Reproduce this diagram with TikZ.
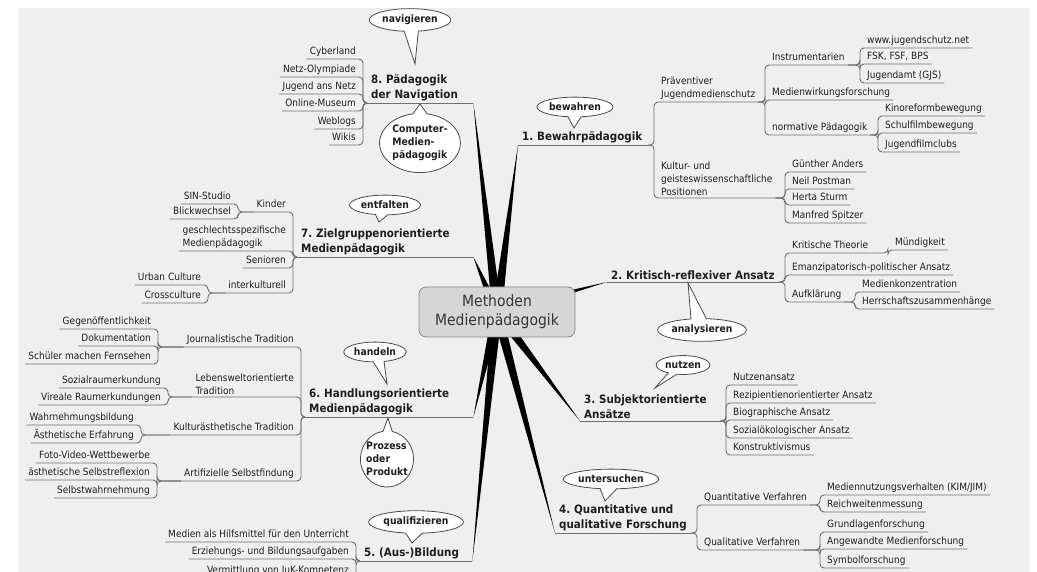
\documentclass[tikz,border=0pt]{standalone}
\usepackage{fontspec}
\setmainfont{DejaVu Sans}[FakeStretch=0.9]
\usetikzlibrary{calc,shapes.callouts}
\definecolor{paper}{HTML}{EFEFEF}
\definecolor{ink}{HTML}{1E1E1E}
\definecolor{wire}{HTML}{707070}
\definecolor{hubfill}{HTML}{D6D6D6}
\definecolor{hubline}{HTML}{8A8A8A}
\definecolor{sayline}{HTML}{4A4A4A}

\begin{document}
\frenchspacing
\begin{tikzpicture}[x=1pt, y=-1pt,
    txt/.style={font=\fontsize{10}{13}\selectfont, text=ink, inner xsep=3pt, inner ysep=2pt},
    rleaf/.style={txt, anchor=south west, text height=7.5pt, text depth=2.5pt},
    lleaf/.style={txt, anchor=south east, text height=7.5pt, text depth=2.5pt},
    rmulti/.style={txt, anchor=south west, align=left},
    lmulti/.style={txt, anchor=south east, align=left},
    topic/.style={font=\fontsize{11.5}{15}\selectfont\bfseries, text=ink, align=left,
      anchor=south west, inner xsep=4pt, inner ysep=2pt},
    link/.style={draw=wire, line width=0.9pt, rounded corners=4pt},
    spoke/.style={fill=black},
    hub/.style={draw=hubline, fill=hubfill, line width=0.8pt, rounded corners=7pt,
      minimum width=156pt, minimum height=50pt, align=center,
      font=\fontsize{15.5}{19}\selectfont, text=ink!90},
    say/.style={ellipse callout, draw=sayline, fill=white, line width=0.8pt,
      font=\fontsize{10.3}{13}\selectfont\bfseries, text=ink, inner xsep=1pt, inner ysep=3pt,
      callout pointer arc=20}
  ]
  \useasboundingbox (0,0) rectangle (1037,572);
  \fill[white] (0,0) rectangle (1037,572);
  \fill[paper] (18,8) rectangle (1030,572);

  \begin{scope}
  \clip (18,8) rectangle (1030,572);

  % main branches
  \node[topic, text width=124pt] (t1) at (518,145) {1. Bewahrpädagogik};
  \node[topic, text width=166pt] (t2) at (607,282) {2. Kritisch-reflexiver Ansatz};
  \node[topic, text width=134pt] (t3) at (580,421) {3. Subjektorientierte\\Ansätze};
  \node[topic, text width=130pt] (t4) at (555,533) {4. Quantitative und\\qualitative Forschung};
  \node[topic, text width=104pt] (t5) at (360,561) {5. (Aus-)Bildung};
  \node[topic, text width=160pt] (t6) at (305,417) {6. Handlungsorientierte\\Medienpädagogik};
  \node[topic, text width=168pt] (t7) at (297,257) {7. Zielgruppenorientierte\\Medienpädagogik};
  \node[topic, text width=98pt] (t8) at (367,103) {8. Pädagogik\\der Navigation};

  % 1
  \node[rmulti] (prae) at (658,102) {Präventiver\\Jugendmedienschutz};
  \node[rmulti] (kult) at (658,198) {Kultur- und\\geisteswissenschaftliche\\Positionen};
  \node[rleaf] (instr) at (769,65) {Instrumentarien};
  \node[rleaf] (wirk) at (769,100) {Medienwirkungsforschung};
  \node[rleaf] (norm) at (769,135) {normative Pädagogik};
  \node[rleaf] (jnet) at (864,48) {www.jugendschutz.net};
  \node[rleaf] (fsk) at (864,64) {FSK, FSF, BPS};
  \node[rleaf] (gjs) at (864,83) {Jugendamt (GJS)};
  \node[rleaf] (kino) at (882,116) {Kinoreformbewegung};
  \node[rleaf] (schul) at (882,133) {Schulfilmbewegung};
  \node[rleaf] (jfc) at (882,152) {Jugendfilmclubs};
  \node[rleaf] (anders) at (789,172) {Günther Anders};
  \node[rleaf] (postman) at (789,189) {Neil Postman};
  \node[rleaf] (sturm) at (789,205) {Herta Sturm};
  \node[rleaf] (spitzer) at (789,223) {Manfred Spitzer};

  % 2
  \node[rleaf] (krit) at (789,253) {Kritische Theorie};
  \node[rleaf] (mund) at (892,250) {Mündigkeit};
  \node[rleaf] (eman) at (789,275) {Emanzipatorisch-politischer Ansatz};
  \node[rleaf] (aufkl) at (789,302) {Aufklärung};
  \node[rleaf] (konz) at (859,292) {Medienkonzentration};
  \node[rleaf] (herr) at (859,309) {Herrschaftszusammenhänge};

  % 3
  \node[rleaf] (nutzen) at (730,385) {Nutzenansatz};
  \node[rleaf] (rezip) at (730,403) {Rezipientienorientierter Ansatz};
  \node[rleaf] (biogr) at (730,420) {Biographische Ansatz};
  \node[rleaf] (sozoek) at (730,438) {Sozialökologischer Ansatz};
  \node[rleaf] (konstr) at (730,455) {Konstruktivismus};

  % 4
  \node[rleaf] (quant) at (701,505) {Quantitative Verfahren};
  \node[rleaf] (qual) at (701,550) {Qualitative Verfahren};
  \node[rleaf] (mnv) at (824,495) {Mediennutzungsverhalten (KIM/JIM)};
  \node[rleaf] (reich) at (824,512) {Reichweitenmessung};
  \node[rleaf] (grund) at (824,532) {Grundlagenforschung};
  \node[rleaf] (angew) at (824,549) {Angewandte Medienforschung};
  \node[rleaf] (symb) at (824,568) {Symbolforschung};

  % 5
  \node[lleaf] (hilf) at (352,542) {Medien als Hilfsmittel für den Unterricht};
  \node[lleaf] (erz) at (352,559) {Erziehungs- und Bildungsaufgaben};
  \node[lleaf] (iuk) at (352,578) {Vermittlung von IuK-Kompetenz};

  % 6
  \node[lleaf] (journ) at (297,347) {Journalistische Tradition};
  \node[lleaf] (gegen) at (154,329) {Gegenöffentlichkeit};
  \node[lleaf] (doku) at (154,346) {Dokumentation};
  \node[lleaf] (schuel) at (154,364) {Schüler machen Fernsehen};
  \node[lmulti] (leben) at (297,397) {Lebensweltorientierte\\Tradition};
  \node[lleaf] (sozraum) at (164,388) {Sozialraumerkundung};
  \node[lleaf] (vireal) at (164,405) {Vireale Raumerkundungen};
  \node[lleaf] (kultae) at (297,435) {Kulturästhetische Tradition};
  \node[lleaf] (wahrn) at (137,425) {Wahrnehmungsbildung};
  \node[lleaf] (aesth) at (137,443) {Ästhetische Erfahrung};
  \node[lleaf] (artif) at (297,481) {Artifizielle Selbstfindung};
  \node[lleaf] (foto) at (153,463) {Foto-Video-Wettbewerbe};
  \node[lleaf] (selbstr) at (153,480) {ästhetische Selbstreflexion};
  \node[lleaf] (selbstw) at (153,498) {Selbstwahrnehmung};

  % 7
  \node[lleaf] (kinder) at (289,212) {Kinder};
  \node[lleaf] (sin) at (234,204) {SIN-Studio};
  \node[lleaf] (blick) at (234,219) {Blickwechsel};
  \node[lmulti] (gender) at (289,251) {geschlechtsspezifische\\Medienpädagogik};
  \node[lleaf] (senior) at (289,268) {Senioren};
  \node[lleaf] (inter) at (289,293) {interkulturell};
  \node[lleaf] (urban) at (204,285) {Urban Culture};
  \node[lleaf] (cross) at (204,303) {Crossculture};

  % 8
  \node[lleaf] (cyber) at (359,59) {Cyberland};
  \node[lleaf] (olymp) at (359,77) {Netz-Olympiade};
  \node[lleaf] (jnetz) at (359,94) {Jugend ans Netz};
  \node[lleaf] (museum) at (359,111) {Online-Museum};
  \node[lleaf] (weblogs) at (359,129) {Weblogs};
  \node[lleaf] (wikis) at (359,145) {Wikis};

  % underlines of the main branches
  \draw[link] (t1.south west) -- (t1.south east);
  \draw[link] (t2.south west) -- (t2.south east);
  \draw[link] (t3.south west) -- (t3.south east);
  \draw[link] (t4.south west) -- (t4.south east);
  \draw[link] (t5.south west) -- (t5.south east);
  \draw[link] (t6.south west) -- (t6.south east);
  \draw[link] (t7.south west) -- (t7.south east);
  \draw[link] (t8.south west) -- (t8.south east);

  % links, right side
  \draw[link] (t1.south east) -| ([xshift=-4pt]prae.south west) -- (prae.south east);
  \draw[link] (t1.south east) -| ([xshift=-4pt]kult.south west) -- (kult.south east);
  \draw[link] (prae.south east) -| ([xshift=-4pt]instr.south west) -- (instr.south east);
  \draw[link] (prae.south east) -| ([xshift=-4pt]wirk.south west) -- (wirk.south east);
  \draw[link] (prae.south east) -| ([xshift=-4pt]norm.south west) -- (norm.south east);
  \draw[link] (instr.south east) -| ([xshift=-4pt]jnet.south west) -- (jnet.south east);
  \draw[link] (instr.south east) -| ([xshift=-4pt]fsk.south west) -- (fsk.south east);
  \draw[link] (instr.south east) -| ([xshift=-4pt]gjs.south west) -- (gjs.south east);
  \draw[link] (norm.south east) -| ([xshift=-4pt]kino.south west) -- (kino.south east);
  \draw[link] (norm.south east) -| ([xshift=-4pt]schul.south west) -- (schul.south east);
  \draw[link] (norm.south east) -| ([xshift=-4pt]jfc.south west) -- (jfc.south east);
  \draw[link] (kult.south east) -| ([xshift=-4pt]anders.south west) -- (anders.south east);
  \draw[link] (kult.south east) -| ([xshift=-4pt]postman.south west) -- (postman.south east);
  \draw[link] (kult.south east) -| ([xshift=-4pt]sturm.south west) -- (sturm.south east);
  \draw[link] (kult.south east) -| ([xshift=-4pt]spitzer.south west) -- (spitzer.south east);

  \draw[link] (t2.south east) -| ([xshift=-4pt]krit.south west) -- (krit.south east);
  \draw[link] (t2.south east) -| ([xshift=-4pt]eman.south west) -- (eman.south east);
  \draw[link] (t2.south east) -| ([xshift=-4pt]aufkl.south west) -- (aufkl.south east);
  \draw[link] (krit.south east) -| ([xshift=-4pt]mund.south west) -- (mund.south east);
  \draw[link] (aufkl.south east) -| ([xshift=-4pt]konz.south west) -- (konz.south east);
  \draw[link] (aufkl.south east) -| ([xshift=-4pt]herr.south west) -- (herr.south east);

  \draw[link] (t3.south east) -| ([xshift=-4pt]nutzen.south west) -- (nutzen.south east);
  \draw[link] (t3.south east) -| ([xshift=-4pt]rezip.south west) -- (rezip.south east);
  \draw[link] (t3.south east) -| ([xshift=-4pt]biogr.south west) -- (biogr.south east);
  \draw[link] (t3.south east) -| ([xshift=-4pt]sozoek.south west) -- (sozoek.south east);
  \draw[link] (t3.south east) -| ([xshift=-4pt]konstr.south west) -- (konstr.south east);

  \draw[link] (t4.south east) -| ([xshift=-4pt]quant.south west) -- (quant.south east);
  \draw[link] (t4.south east) -| ([xshift=-4pt]qual.south west) -- (qual.south east);
  \draw[link] (quant.south east) -| ([xshift=-4pt]mnv.south west) -- (mnv.south east);
  \draw[link] (quant.south east) -| ([xshift=-4pt]reich.south west) -- (reich.south east);
  \draw[link] (qual.south east) -| ([xshift=-4pt]grund.south west) -- (grund.south east);
  \draw[link] (qual.south east) -| ([xshift=-4pt]angew.south west) -- (angew.south east);
  \draw[link] (qual.south east) -| ([xshift=-4pt]symb.south west) -- (symb.south east);

  % links, left side
  \draw[link] (t5.south west) -| ([xshift=4pt]hilf.south east) -- (hilf.south west);
  \draw[link] (t5.south west) -| ([xshift=4pt]erz.south east) -- (erz.south west);
  \draw[link] (t5.south west) -| ([xshift=4pt]iuk.south east) -- (iuk.south west);

  \draw[link] (t6.south west) -| ([xshift=4pt]journ.south east) -- (journ.south west);
  \draw[link] (t6.south west) -| ([xshift=4pt]leben.south east) -- (leben.south west);
  \draw[link] (t6.south west) -| ([xshift=4pt]kultae.south east) -- (kultae.south west);
  \draw[link] (t6.south west) -| ([xshift=4pt]artif.south east) -- (artif.south west);
  \draw[link] (journ.south west) -| ([xshift=4pt]gegen.south east) -- (gegen.south west);
  \draw[link] (journ.south west) -| ([xshift=4pt]doku.south east) -- (doku.south west);
  \draw[link] (journ.south west) -| ([xshift=4pt]schuel.south east) -- (schuel.south west);
  \draw[link] (leben.south west) -| ([xshift=4pt]sozraum.south east) -- (sozraum.south west);
  \draw[link] (leben.south west) -| ([xshift=4pt]vireal.south east) -- (vireal.south west);
  \draw[link] (kultae.south west) -| ([xshift=4pt]wahrn.south east) -- (wahrn.south west);
  \draw[link] (kultae.south west) -| ([xshift=4pt]aesth.south east) -- (aesth.south west);
  \draw[link] (artif.south west) -| ([xshift=4pt]foto.south east) -- (foto.south west);
  \draw[link] (artif.south west) -| ([xshift=4pt]selbstr.south east) -- (selbstr.south west);
  \draw[link] (artif.south west) -| ([xshift=4pt]selbstw.south east) -- (selbstw.south west);

  \draw[link] (t7.south west) -| ([xshift=4pt]kinder.south east) -- (kinder.south west);
  \draw[link] (t7.south west) -| ([xshift=4pt]gender.south east) -- (gender.south west);
  \draw[link] (t7.south west) -| ([xshift=4pt]senior.south east) -- (senior.south west);
  \draw[link] (t7.south west) -| ([xshift=4pt]inter.south east) -- (inter.south west);
  \draw[link] (kinder.south west) -| ([xshift=4pt]sin.south east) -- (sin.south west);
  \draw[link] (kinder.south west) -| ([xshift=4pt]blick.south east) -- (blick.south west);
  \draw[link] (inter.south west) -| ([xshift=4pt]urban.south east) -- (urban.south west);
  \draw[link] (inter.south west) -| ([xshift=4pt]cross.south east) -- (cross.south west);

  \draw[link] (t8.south west) -| ([xshift=4pt]cyber.south east) -- (cyber.south west);
  \draw[link] (t8.south west) -| ([xshift=4pt]olymp.south east) -- (olymp.south west);
  \draw[link] (t8.south west) -| ([xshift=4pt]jnetz.south east) -- (jnetz.south west);
  \draw[link] (t8.south west) -| ([xshift=4pt]museum.south east) -- (museum.south west);
  \draw[link] (t8.south west) -| ([xshift=4pt]weblogs.south east) -- (weblogs.south west);
  \draw[link] (t8.south west) -| ([xshift=4pt]wikis.south east) -- (wikis.south west);

  % tapering spokes from the centre
  \coordinate (mid) at (497,312);
  \fill[spoke] ($(mid)!5pt!90:(t1.south west)$) -- (t1.south west) -- ($(mid)!5pt!-90:(t1.south west)$) -- cycle;
  \fill[spoke] ($(mid)!5pt!90:(t2.south west)$) -- (t2.south west) -- ($(mid)!5pt!-90:(t2.south west)$) -- cycle;
  \fill[spoke] ($(mid)!5pt!90:(t3.south west)$) -- (t3.south west) -- ($(mid)!5pt!-90:(t3.south west)$) -- cycle;
  \fill[spoke] ($(mid)!5pt!90:(t4.south west)$) -- (t4.south west) -- ($(mid)!5pt!-90:(t4.south west)$) -- cycle;
  \fill[spoke] ($(mid)!5pt!90:(t5.south east)$) -- (t5.south east) -- ($(mid)!5pt!-90:(t5.south east)$) -- cycle;
  \fill[spoke] ($(mid)!5pt!90:(t6.south east)$) -- (t6.south east) -- ($(mid)!5pt!-90:(t6.south east)$) -- cycle;
  \fill[spoke] ($(mid)!5pt!90:(t7.south east)$) -- (t7.south east) -- ($(mid)!5pt!-90:(t7.south east)$) -- cycle;
  \fill[spoke] ($(mid)!5pt!90:(t8.south east)$) -- (t8.south east) -- ($(mid)!5pt!-90:(t8.south east)$) -- cycle;

  \node[hub] (hub) at (mid) {Methoden\\Medienpädagogik};

  % callouts
  \node[say, callout absolute pointer={(415,64)}] (navig) at (410,20) {navigieren};
  \node[say, align=left, callout absolute pointer={(420,104)}] (comp) at (420,143) {Computer-\\Medien-\\pädagogik};
  \node[say, callout absolute pointer={(574,128)}] (bewahr) at (575,107) {bewahren};
  \node[say, callout absolute pointer={(379,222)}] (entf) at (385,205) {entfalten};
  \node[say, callout absolute pointer={(688,283)}] (analys) at (702,330) {analysieren};
  \node[say, callout absolute pointer={(655,388)}] (nutz) at (683,365) {nutzen};
  \node[say, callout absolute pointer={(605,501)}] (unters) at (611,479) {untersuchen};
  \node[say, callout absolute pointer={(387,384)}] (hand) at (375,352) {handeln};
  \node[say, align=left, inner xsep=-2pt, callout absolute pointer={(388,418)}] (proz) at (387,459) {Prozess\\oder\\Produkt};
  \node[say, callout absolute pointer={(412,543)}] (qualif) at (416,522) {qualifizieren};
  \end{scope}
\end{tikzpicture}
\end{document}
